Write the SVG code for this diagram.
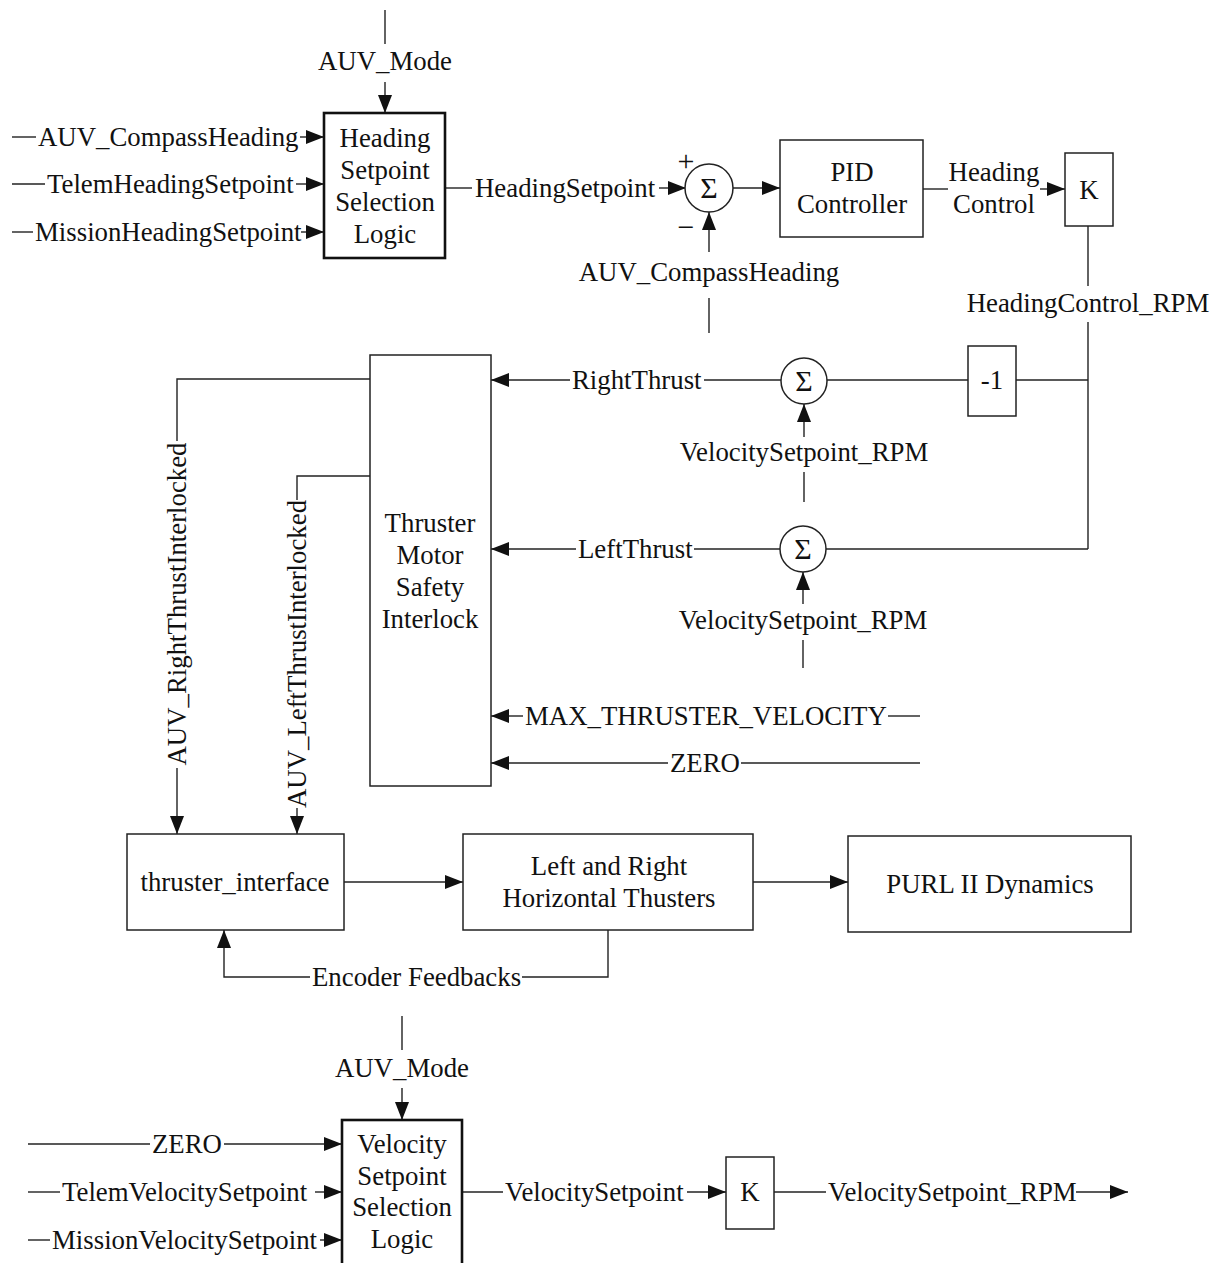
<svg xmlns="http://www.w3.org/2000/svg" width="1218" height="1263" viewBox="0 0 1218 1263">
  <style>
    text { font-family: "Liberation Serif", "Times New Roman", serif; font-size: 26.8px; fill: #111; }
    .c { text-anchor: middle; }
    .sig { font-size: 30px; }
    .box { fill: #fff; stroke: #222; stroke-width: 1.5; }
    .thick { fill: #fff; stroke: #111; stroke-width: 2.6; }
    .sum { fill: #fff; stroke: #222; stroke-width: 1.5; }
    .wire { fill: none; stroke: #222; stroke-width: 1.4; }
    .arr { marker-end: url(#head); }
  </style>
  <defs>
    <marker id="head" markerUnits="userSpaceOnUse" markerWidth="19" markerHeight="15" refX="18" refY="7" orient="auto">
      <path d="M0,0 L18,7 L0,14 Z" fill="#111"/>
    </marker>
  </defs>

  <!-- Connectors and signal labels -->
  <g id="connectors">
    <!-- heading setpoint selection inputs -->
    <line class="wire" x1="385" y1="10" x2="385" y2="44"/>
    <text class="c" x="385" y="70">AUV_Mode</text>
    <line class="wire arr" x1="385" y1="82" x2="385" y2="113"/>

    <line class="wire" x1="12" y1="137" x2="36" y2="137"/>
    <text x="38" y="146">AUV_CompassHeading</text>
    <line class="wire arr" x1="300" y1="137" x2="324" y2="137"/>

    <line class="wire" x1="12" y1="184" x2="45" y2="184"/>
    <text x="47" y="193">TelemHeadingSetpoint</text>
    <line class="wire arr" x1="296" y1="184" x2="324" y2="184"/>

    <line class="wire" x1="12" y1="232" x2="33" y2="232"/>
    <text x="35" y="241">MissionHeadingSetpoint</text>
    <line class="wire arr" x1="301" y1="232" x2="324" y2="232"/>

    <!-- heading error -->
    <line class="wire" x1="445" y1="188" x2="472" y2="188"/>
    <text x="475" y="197">HeadingSetpoint</text>
    <line class="wire arr" x1="659" y1="188" x2="686" y2="188"/>
    <text class="c sig" x="686" y="171">+</text>
    <text class="c sig" x="686" y="237">−</text>
    <line class="wire" x1="709" y1="333" x2="709" y2="298"/>
    <text class="c" x="709" y="281">AUV_CompassHeading</text>
    <line class="wire arr" x1="709" y1="252" x2="709" y2="212"/>
    <line class="wire arr" x1="733" y1="188" x2="780" y2="188"/>

    <!-- heading control -->
    <line class="wire" x1="923" y1="189" x2="948" y2="189"/>
    <text class="c" x="994" y="181">Heading</text>
    <text class="c" x="994" y="213">Control</text>
    <line class="wire arr" x1="1040" y1="189" x2="1065" y2="189"/>

    <line class="wire" x1="1088" y1="226" x2="1088" y2="286"/>
    <text class="c" x="1088" y="312">HeadingControl_RPM</text>
    <line class="wire" x1="1088" y1="322" x2="1088" y2="549"/>
    <line class="wire" x1="1088" y1="380" x2="1016" y2="380"/>
    <line class="wire" x1="968" y1="380" x2="827" y2="380"/>
    <line class="wire" x1="1088" y1="549" x2="826" y2="549"/>

    <!-- right thrust -->
    <line class="wire" x1="781" y1="380" x2="704" y2="380"/>
    <text x="572" y="389">RightThrust</text>
    <line class="wire arr" x1="570" y1="380" x2="491" y2="380"/>
    <line class="wire" x1="804" y1="502" x2="804" y2="472"/>
    <text class="c" x="804" y="461">VelocitySetpoint_RPM</text>
    <line class="wire arr" x1="804" y1="437" x2="804" y2="404"/>

    <!-- left thrust -->
    <line class="wire" x1="780" y1="549" x2="694" y2="549"/>
    <text x="578" y="558">LeftThrust</text>
    <line class="wire arr" x1="576" y1="549" x2="491" y2="549"/>
    <line class="wire" x1="803" y1="668" x2="803" y2="640"/>
    <text class="c" x="803" y="629">VelocitySetpoint_RPM</text>
    <line class="wire arr" x1="803" y1="604" x2="803" y2="572"/>

    <!-- limits -->
    <line class="wire" x1="920" y1="716" x2="888" y2="716"/>
    <text x="525" y="725">MAX_THRUSTER_VELOCITY</text>
    <line class="wire arr" x1="523" y1="716" x2="491" y2="716"/>
    <line class="wire" x1="920" y1="763" x2="741" y2="763"/>
    <text x="670" y="772">ZERO</text>
    <line class="wire arr" x1="668" y1="763" x2="491" y2="763"/>

    <!-- interlocked outputs -->
    <polyline class="wire" points="370,379 177,379 177,441"/>
    <text class="c" transform="translate(186,604) rotate(-90)" x="0" y="0">AUV_RightThrustInterlocked</text>
    <line class="wire arr" x1="177" y1="768" x2="177" y2="834"/>

    <polyline class="wire" points="370,476 297,476 297,500"/>
    <text class="c" transform="translate(306,654) rotate(-90)" x="0" y="0">AUV_LeftThrustInterlocked</text>
    <line class="wire arr" x1="297" y1="808" x2="297" y2="834"/>

    <!-- plant chain -->
    <line class="wire arr" x1="344" y1="882" x2="463" y2="882"/>
    <line class="wire arr" x1="753" y1="882" x2="848" y2="882"/>
    <polyline class="wire" points="608,930 608,977 522,977"/>
    <text x="312" y="986">Encoder Feedbacks</text>
    <polyline class="wire arr" points="310,977 224,977 224,930"/>

    <!-- velocity setpoint selection -->
    <line class="wire" x1="402" y1="1016" x2="402" y2="1050"/>
    <text class="c" x="402" y="1077">AUV_Mode</text>
    <line class="wire arr" x1="402" y1="1088" x2="402" y2="1120"/>

    <line class="wire" x1="28" y1="1144" x2="150" y2="1144"/>
    <text x="152" y="1153">ZERO</text>
    <line class="wire arr" x1="224" y1="1144" x2="342" y2="1144"/>

    <line class="wire" x1="28" y1="1192" x2="60" y2="1192"/>
    <text x="62" y="1201">TelemVelocitySetpoint</text>
    <line class="wire arr" x1="315" y1="1192" x2="342" y2="1192"/>

    <line class="wire" x1="28" y1="1240" x2="50" y2="1240"/>
    <text x="52" y="1249">MissionVelocitySetpoint</text>
    <line class="wire arr" x1="320" y1="1240" x2="342" y2="1240"/>

    <line class="wire" x1="462" y1="1192" x2="503" y2="1192"/>
    <text x="505" y="1201">VelocitySetpoint</text>
    <line class="wire arr" x1="687" y1="1192" x2="726" y2="1192"/>
    <line class="wire" x1="774" y1="1192" x2="826" y2="1192"/>
    <text x="828" y="1201">VelocitySetpoint_RPM</text>
    <line class="wire arr" x1="1076" y1="1192" x2="1128" y2="1192"/>
  </g>

  <!-- Blocks -->
  <g id="heading-selection">
    <rect class="thick" x="324" y="113" width="121" height="145"/>
    <text class="c" x="385" y="147">Heading</text>
    <text class="c" x="385" y="179">Setpoint</text>
    <text class="c" x="385" y="211">Selection</text>
    <text class="c" x="385" y="243">Logic</text>
  </g>

  <g id="heading-sum">
    <circle class="sum" cx="709" cy="188" r="24"/>
    <text class="c sig" x="709" y="198">Σ</text>
  </g>

  <g id="pid-controller">
    <rect class="box" x="780" y="140" width="143" height="97"/>
    <text class="c" x="852" y="181">PID</text>
    <text class="c" x="852" y="213">Controller</text>
  </g>

  <g id="heading-gain">
    <rect class="box" x="1065" y="153" width="48" height="73"/>
    <text class="c" x="1089" y="199">K</text>
  </g>

  <g id="negate">
    <rect class="box" x="968" y="346" width="48" height="70"/>
    <text class="c" x="992" y="389">-1</text>
  </g>

  <g id="right-sum">
    <circle class="sum" cx="804" cy="381" r="23"/>
    <text class="c sig" x="804" y="391">Σ</text>
  </g>

  <g id="left-sum">
    <circle class="sum" cx="803" cy="549" r="23"/>
    <text class="c sig" x="803" y="559">Σ</text>
  </g>

  <g id="safety-interlock">
    <rect class="box" x="370" y="355" width="121" height="431"/>
    <text class="c" x="430" y="532">Thruster</text>
    <text class="c" x="430" y="564">Motor</text>
    <text class="c" x="430" y="596">Safety</text>
    <text class="c" x="430" y="628">Interlock</text>
  </g>

  <g id="thruster-interface">
    <rect class="box" x="127" y="834" width="217" height="96"/>
    <text class="c" x="235" y="891">thruster_interface</text>
  </g>

  <g id="horizontal-thrusters">
    <rect class="box" x="463" y="834" width="290" height="96"/>
    <text class="c" x="609" y="875">Left and Right</text>
    <text class="c" x="609" y="907">Horizontal Thusters</text>
  </g>

  <g id="purl-dynamics">
    <rect class="box" x="848" y="836" width="283" height="96"/>
    <text class="c" x="990" y="893">PURL II Dynamics</text>
  </g>

  <g id="velocity-selection">
    <rect class="thick" x="342" y="1120" width="120" height="170"/>
    <text class="c" x="402" y="1153">Velocity</text>
    <text class="c" x="402" y="1185">Setpoint</text>
    <text class="c" x="402" y="1216">Selection</text>
    <text class="c" x="402" y="1248">Logic</text>
  </g>

  <g id="velocity-gain">
    <rect class="box" x="726" y="1157" width="48" height="72"/>
    <text class="c" x="750" y="1201">K</text>
  </g>
</svg>
